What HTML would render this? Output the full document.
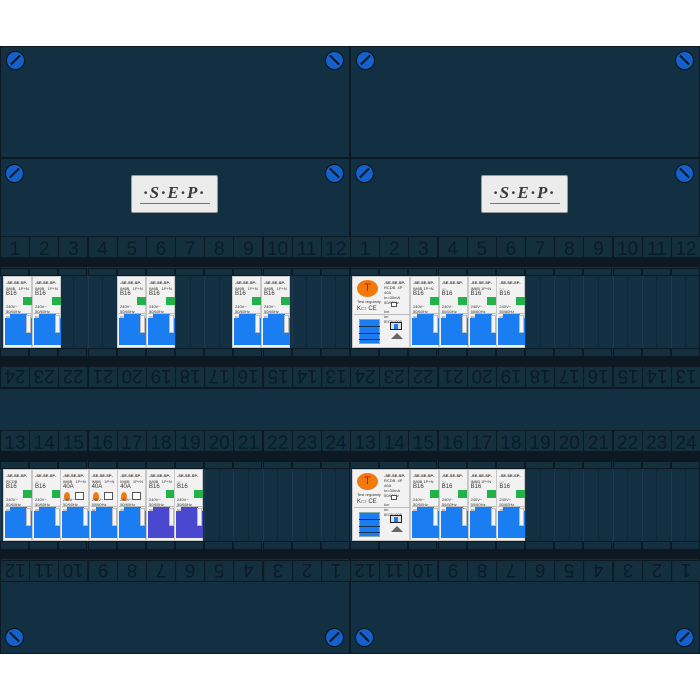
<!DOCTYPE html><html><head><meta charset="utf-8"><style>
body{margin:0;width:700px;height:700px;background:#fff;position:relative;overflow:hidden;font-family:"Liberation Sans",sans-serif}
div{position:absolute;box-sizing:border-box}
.p{background:#132f42}
.d{background:#0c1923}
.n{color:#0b1b27;font-size:19px;text-align:center;line-height:25px;border:1px solid #0c1923;background:#14303f;overflow:hidden}
.r{transform:rotate(180deg);line-height:24px}
.s{width:19px;height:19px;border-radius:50%;background:#1561c9;border:1.5px solid #07131b}
.s::after{content:"";position:absolute;left:2px;top:7px;width:13px;height:2px;background:#07131b;transform:rotate(-45deg)}
.s.b::after{transform:rotate(45deg)}
.m{background:#f2f2f2;border:1px solid #c8c8c8}
.bl{background:#1a7ef2}
.g{background:#21b34a;width:9px;height:8px}
.t{font-size:4px;color:#333;line-height:5px;white-space:nowrap}
.v{background:#0f2838;width:1px}
</style></head><body>
<div class="p" style="left:0;top:46px;width:700px;height:608px;border:1px solid #0c1923"></div>
<div id="root"></div>
<script>
const R=document.getElementById('root');
function add(h){R.insertAdjacentHTML('beforeend',h)}
function box(x,y,w,h,c,extra){add(`<div class="${c}" style="left:${x}px;top:${y}px;width:${w}px;height:${h}px;${extra||''}"></div>`)}
const cw=350/12;
for(const X of [0,350]){
 box(X+349*(X?0:1),46,1,608,'d');
 box(X,46,350,112,'p','border:1px solid #0c1923');
 box(X,157,350,2,'d');
 box(X+131,175,87,38,'','background:#ececec;border:1px solid #999;border-radius:2px');
 add(`<div style="left:${X+131}px;top:183px;width:87px;text-align:center;font:italic bold 17px 'Liberation Serif',serif;color:#3a3a3a;letter-spacing:2px">·S·E·P·</div>`);
 box(X+140,203,70,1,'','background:#b5651d');
 add(`<div class="s" style="left:${X+6}px;top:51px"></div><div class="s b" style="left:${X+325}px;top:51px"></div>`);
 add(`<div class="s" style="left:${X+5}px;top:164px"></div><div class="s b" style="left:${X+325}px;top:164px"></div>`);
 add(`<div class="s b" style="left:${X+5}px;top:628px"></div><div class="s" style="left:${X+325}px;top:628px"></div>`);
 box(X,388,350,42,'p','border-top:1px solid #0c1923');
 for(const [ny,inv,dy,start] of [[236,0,258,1],[366,1,357,24],[430,0,452,13],[560,1,550,12]]){
  for(let i=0;i<12;i++){
   let num=inv?(start-i):(start+i);
   add(`<div class="n ${inv?'r':''}" style="left:${X+i*cw}px;top:${ny}px;width:${cw+1}px;height:22px">${num}</div>`);
  }
  box(X,dy,350,9,'d');
 }
 for(const [y1,y2] of [[268,348],[461,541]]){
  for(let i=0;i<12;i++){box(X+i*cw,y1,cw,8,'','background:#14303f;border:1px solid #0c1923');box(X+i*cw,y2,cw,9,'','background:#14303f;border:1px solid #0c1923');
   box(X+i*cw+cw/2,y1+8,1,y2-y1-8,'v');box(X+i*cw,y1+8,1,y2-y1-8,'v','background:#1e3a4c');}
 }
}
function mcb(x,y,w,opt){
 opt=opt||{};
 let h=72;
 add(`<div class="m" style="left:${x}px;top:${y}px;width:${w}px;height:${h}px">
 <div class="t" style="left:2px;top:3px;font-weight:bold">-SE-SE-SP-</div>
 <div class="t" style="left:2px;top:9px">${opt.txt||'IM6B &nbsp; 1P+N'}</div>
 <div class="t" style="left:2px;top:14px;font-size:6px;line-height:6px">${opt.big||'B16'}</div>
 ${opt.orange?'<div style="left:3px;top:22px;width:6px;height:9px;border-radius:50%;background:#f07a10"></div><div style="left:14px;top:22px;width:9px;height:8px;border:1px solid #555;background:#fff"></div>':'<div class="g" style="left:'+(w/2+4)+'px;top:20px"></div>'}
 <div class="t" style="left:2px;top:27px">240V~<br>50/60Hz<br>▭▭ K</div>
 <div style="left:1px;top:36px;width:${w-2}px;height:1px;background:#bbb"></div>
 <div class="bl" style="left:1px;top:41px;width:${w-2}px;height:27px;${opt.purple?'background:#4b48d0':''}"></div>
 <div class="bl" style="left:6px;top:37px;width:${w-12}px;height:8px;${opt.purple?'background:#4b48d0':''}"></div>
 <div style="left:${w-7}px;top:38px;width:5px;height:18px;background:#f5f5f5;border:1px solid #bbb"></div>
 </div>`);
}
function rcd(x,y){
 add(`<div class="m" style="left:${x}px;top:${y}px;width:58px;height:72px">
 <div style="left:4px;top:3px;width:21px;height:17px;border-radius:50%;background:#f27a0c;color:#d3160d;font-size:11px;text-align:center;line-height:17px">T</div>
 <div class="t" style="left:4px;top:22px">Test regularly</div>
 <div class="t" style="left:4px;top:30px;font-size:6px">K▭ CE</div>
 <div class="t" style="left:31px;top:3px;font-weight:bold">-SE-SE-SP-</div>
 <div class="t" style="left:31px;top:8px">RCDB &nbsp;4P<br>40A<br>In=30mA<br>50/60Hz</div>
 <div style="left:38px;top:25px;width:6px;height:5px;border:1px solid #555;background:#fff"></div>
 <div class="t" style="left:31px;top:32px">Icn<br>Im<br>IEC61008</div>
 <div style="left:1px;top:37px;width:57px;height:1px;background:#bbb"></div>
 <div style="left:6px;top:42px;width:21px;height:25px;background:#1a7ef2;border:1px solid #8aa"></div>
 <div style="left:6px;top:49px;width:21px;height:1px;background:#135"></div>
 <div style="left:6px;top:56px;width:21px;height:1px;background:#135"></div>
 <div style="left:6px;top:62px;width:21px;height:1px;background:#135"></div>
 <div style="left:37px;top:45px;width:12px;height:8px;border:1.5px solid #222;background:#ddd"></div>
 <div style="left:41px;top:47px;width:4px;height:5px;background:#1a7ef2"></div>
 <div style="left:38px;top:56px;width:0;height:0;border-left:6px solid transparent;border-right:6px solid transparent;border-bottom:6px solid #666"></div>
 </div>`);
}
for(const x of [3,32,117,146,232,261]) mcb(x,276,29);
for(const y of [276,469]){rcd(352,y);for(let i=0;i<4;i++)mcb(410+i*28.8,y,29,{txt:i%2?'::::':'IM6B 1P+N',big:i%2?'':'B16'});}
mcb(3,469,29,{txt:'RCDB',big:''});
mcb(32,469,29,{txt:'::::',big:''});
for(let i=0;i<3;i++) mcb(60+i*28.6,469,29,{orange:1,big:'40A'});
mcb(146,469,29,{purple:1});
mcb(174,469,29,{purple:1,txt:'::::',big:''});
</script>
</body></html>
